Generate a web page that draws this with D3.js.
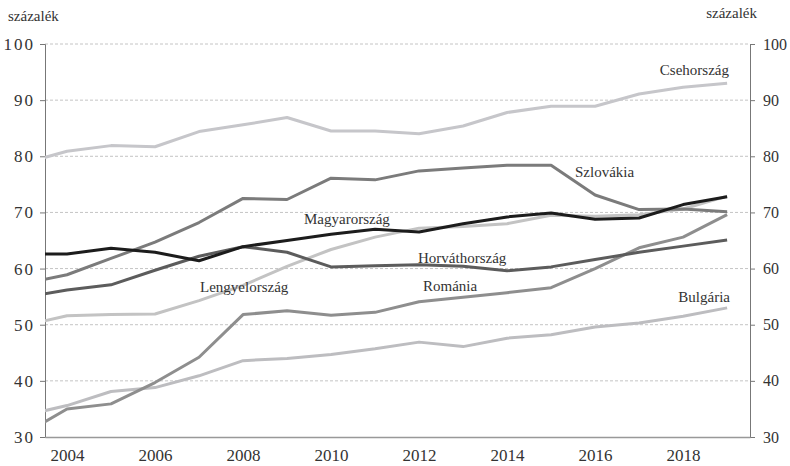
<!DOCTYPE html>
<html>
<head>
<meta charset="utf-8">
<script src="https://cdn.jsdelivr.net/npm/d3@7"></script>
<style>
  body { margin: 0; background: #fff; }
  svg text { font-family: "Liberation Serif", "DejaVu Serif", serif; fill: #333; }
</style>
</head>
<body>
<div id="chart"></div>
<script>
// Data (share, percent)
const years = [2003, 2004, 2005, 2006, 2007, 2008, 2009, 2010, 2011, 2012, 2013, 2014, 2015, 2016, 2017, 2018, 2019];

const cseh = [78.7, 80.9, 81.9, 81.7, 84.4, 85.6, 86.9, 84.5, 84.5, 84.0, 85.4, 87.8, 88.9, 88.9, 91.1, 92.3, 93.0];
const szlovakia = [57.3, 58.9, 61.8, 64.7, 68.2, 72.5, 72.3, 76.1, 75.8, 77.4, 77.9, 78.4, 78.4, 73.1, 70.5, 70.6, 70.1];
const magyar = [62.6, 62.6, 63.6, 62.9, 61.4, 63.9, 65.0, 66.1, 67.0, 66.5, 68.0, 69.2, 69.9, 68.8, 69.0, 71.4, 72.8];
const horvat = [54.8, 56.2, 57.1, 59.7, 62.2, 63.9, 62.9, 60.3, 60.5, 60.7, 60.4, 59.6, 60.3, 61.6, 62.9, 64.0, 65.1];
const lengyel = [49.8, 51.6, 51.8, 51.9, 54.3, 57.0, 60.4, 63.4, 65.6, 67.2, 67.5, 68.0, 69.5, 69.3, 69.6, 70.6, 72.9];
const romania = [30.4, 35.0, 35.9, 39.7, 44.2, 51.8, 52.5, 51.7, 52.2, 54.1, 54.9, 55.7, 56.6, 60.0, 63.7, 65.6, 69.6];
const bulgaria = [33.8, 35.6, 38.1, 38.8, 40.9, 43.6, 44.0, 44.7, 45.7, 46.9, 46.1, 47.6, 48.2, 49.6, 50.3, 51.5, 53.0];

const xTicks = [2004, 2006, 2008, 2010, 2012, 2014, 2016, 2018];
const yTicks = [30, 40, 50, 60, 70, 80, 90, 100];

const series = [
  { name: "Csehország", values: cseh, color: "#c6c6ca", lx: 729, ly: 75, anchor: "end" },
  { name: "Bulgária", values: bulgaria, color: "#bdbdc0", lx: 730, ly: 302, anchor: "end" },
  { name: "Lengyelország", values: lengyel, color: "#c3c3c3", lx: 200, ly: 292, anchor: "start" },
  { name: "Románia", values: romania, color: "#8e8e8e", lx: 423, ly: 291, anchor: "start" },
  { name: "Szlovákia", values: szlovakia, color: "#7b7b7b", lx: 575, ly: 177, anchor: "start" },
  { name: "Horváthország", values: horvat, color: "#5c5c5c", lx: 418, ly: 263, anchor: "start" },
  { name: "Magyarország", values: magyar, color: "#1c1c1c", lx: 304, ly: 224, anchor: "start" }
];

const width = 790, height = 466;
const mLeft = 45, mRight = 750, mTop = 44, mBottom = 437;

const svg = d3.select("#chart").append("svg")
  .attr("width", width)
  .attr("height", height);

const x = d3.scaleLinear().domain([2003.5, 2019.52]).range([mLeft, mRight]);
const y = d3.scaleLinear().domain([30, 100]).range([mBottom, mTop]);

// gridlines
svg.append("g")
  .selectAll("line")
  .data(yTicks.filter(d => d > 30))
  .enter().append("line")
  .attr("x1", mLeft).attr("x2", mRight)
  .attr("y1", d => y(d)).attr("y2", d => y(d))
  .attr("stroke", "#c4c4c4")
  .attr("stroke-width", 1)
  .attr("stroke-dasharray", "3,2");

// left axis
let yAxisL = d3.axisLeft(y).tickValues(yTicks).tickSize(5).tickPadding(5);
let gL = svg.append("g")
  .attr("transform", "translate(" + mLeft + ",0)")
  .call(yAxisL);
gL.select(".domain").attr("stroke", "#777");
gL.selectAll(".tick line").attr("stroke", "#777");
gL.selectAll("text")
  .attr("font-size", "17px")
  .attr("letter-spacing", "2px")
  .attr("fill", "#333")
  .style("font-family", "'Liberation Serif', serif");

// right axis
let yAxisR = d3.axisRight(y).tickValues(yTicks).tickSize(5).tickPadding(8);
let gR = svg.append("g")
  .attr("transform", "translate(" + mRight + ",0)")
  .call(yAxisR);
gR.select(".domain").attr("stroke", "#777");
gR.selectAll(".tick line").attr("stroke", "#777");
gR.selectAll("text")
  .attr("font-size", "16px")
  .attr("fill", "#333")
  .style("font-family", "'Liberation Serif', serif");

// bottom axis
let xAxis = d3.axisBottom(x).tickValues(xTicks).tickFormat(d3.format("d")).tickSize(0).tickPadding(12);
let gX = svg.append("g")
  .attr("transform", "translate(0," + mBottom + ")")
  .call(xAxis);
gX.select(".domain").attr("stroke", "#999").attr("stroke-width", 1.5);
gX.selectAll("text")
  .attr("font-size", "17px")
  .attr("fill", "#333")
  .style("font-family", "'Liberation Serif', serif");

// unit labels
svg.append("text")
  .attr("x", 8).attr("y", 21)
  .attr("font-size", "15px")
  .text("százalék");
svg.append("text")
  .attr("x", 757).attr("y", 18)
  .attr("text-anchor", "end")
  .attr("font-size", "15px")
  .text("százalék");

// clip lines to plot area
svg.append("clipPath").attr("id", "plot")
  .append("rect")
  .attr("x", mLeft).attr("y", mTop - 5)
  .attr("width", mRight - mLeft).attr("height", mBottom - mTop + 5);

const line = d3.line()
  .x((d, i) => x(years[i]))
  .y(d => y(d));

svg.append("g")
  .attr("clip-path", "url(#plot)")
  .selectAll("path")
  .data(series)
  .enter().append("path")
  .attr("d", d => line(d.values))
  .attr("fill", "none")
  .attr("stroke", d => d.color)
  .attr("stroke-width", 3)
  .attr("stroke-linejoin", "round");

// series labels
svg.append("g")
  .selectAll("text")
  .data(series)
  .enter().append("text")
  .attr("x", d => d.lx)
  .attr("y", d => d.ly)
  .attr("text-anchor", d => d.anchor)
  .attr("font-size", "15px")
  .attr("fill", "#222")
  .text(d => d.name);
</script>
</body>
</html>
